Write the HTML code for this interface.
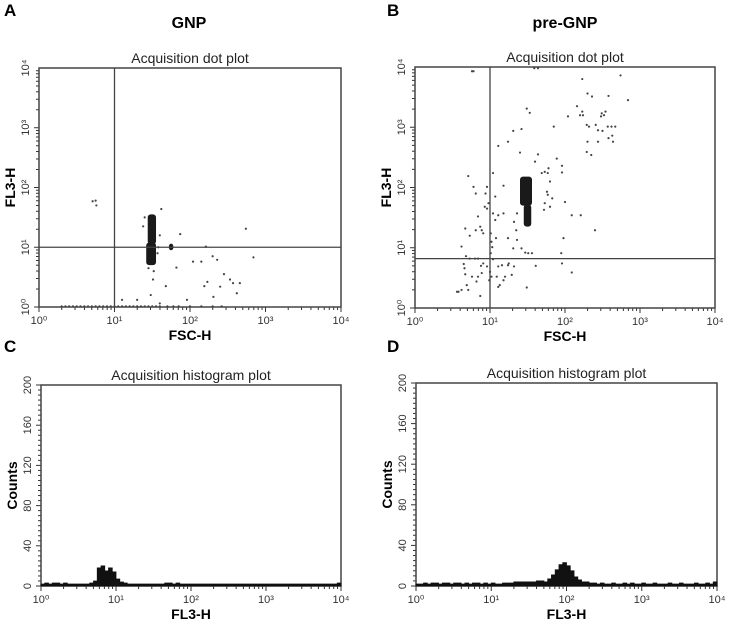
<!DOCTYPE html>
<html><head><meta charset="utf-8">
<style>
html,body{margin:0;padding:0;background:#fff;}
svg{display:block;font-family:"Liberation Sans",Arial,sans-serif;}
</style></head>
<body>
<svg id="fig" width="730" height="629" viewBox="0 0 730 629" xmlns="http://www.w3.org/2000/svg">
  <text x="4" y="16" font-size="17" font-weight="bold">A</text>
  <text x="189" y="28" font-size="16" font-weight="bold" text-anchor="middle">GNP</text>
  <text x="387" y="16" font-size="17" font-weight="bold">B</text>
  <text x="565" y="28" font-size="16" font-weight="bold" text-anchor="middle">pre-GNP</text>
  <text x="4" y="352" font-size="17" font-weight="bold">C</text>
  <text x="387" y="352" font-size="17" font-weight="bold">D</text>
</svg>
<script>
// ---------- DATA (log10 decades of event intensity) ----------
const aFscLog = [0.71,0.75,0.76,1.62,1.87,2.74,2.84,2.04,2.15,2.21,2.30,2.36,2.45,2.53,2.57,2.40,2.31,2.62,2.66,2.23,2.19,1.82,1.68,1.51,1.48,1.60,1.30,1.10,1.96,1.40,1.38,1.58,1.57,1.45,1.60,1.52];
const aFl3Log = [1.77,1.78,1.70,1.64,1.22,1.31,0.83,0.76,0.76,1.01,0.85,0.79,0.55,0.46,0.40,0.34,0.17,0.23,0.40,0.42,0.35,0.66,0.35,0.46,0.20,0.06,0.12,0.12,0.12,1.50,1.35,1.00,0.90,0.65,1.20,0.60];
const aFloorFsc = [0.30,0.35,0.40,0.45,0.50,0.55,0.60,0.65,0.70,0.75,0.80,0.85,0.90,0.95,1.00,1.05,1.10,1.15,1.20,1.25,1.30,1.35,1.40,1.45,1.50,1.55,1.60,1.70,1.78,1.85,2.00,2.15,2.30,2.42];
const aCoreXLo = [1.42,1.44,1.72];
const aCoreXHi = [1.55,1.55,1.78];
const aCoreYLo = [0.70,1.05,0.95];
const aCoreYHi = [1.08,1.55,1.06];
const bFscLog = [0.76,0.78,1.59,1.64,2.23,2.74,2.30,2.36,2.58,2.84,2.16,2.04,2.23,2.20,2.24,2.49,2.54,2.52,2.48,2.41,1.85,1.49,1.53,1.42,1.31,1.24,1.11,1.40,1.64,1.60,1.89,1.96,2.29,2.29,2.35,2.32,2.62,2.67,2.57,2.44,2.50,2.64,2.63,2.58,2.30,2.44,1.77,1.78,1.73,1.69,1.96,1.80,1.76,1.77,1.73,1.80,1.72,1.83,2.09,2.00,2.21,2.40,1.98,1.95,1.96,2.09,1.61,1.49,1.56,1.51,1.47,1.42,1.36,1.31,1.35,1.32,1.36,1.18,1.11,1.04,1.07,1.24,1.08,1.04,1.18,1.07,0.98,0.96,0.93,0.96,0.94,0.81,0.78,0.71,0.84,0.87,0.89,0.81,0.91,0.73,0.67,0.62,0.68,0.73,0.80,0.84,0.91,0.88,0.96,1.00,1.02,0.99,0.89,0.84,0.82,0.76,0.67,0.66,0.65,0.69,0.71,0.62,0.58,0.56,0.87,1.11,1.16,1.18,1.13,1.11,1.09,1.24,1.25,1.32,1.29,1.20,1.03,1.04,1.01,1.02,1.01];
const bFl3Log = [3.93,3.93,3.98,3.98,3.80,3.86,3.56,3.51,3.52,3.45,3.35,3.18,3.26,3.20,3.20,3.23,3.26,3.20,3.18,3.04,3.01,3.31,3.24,2.97,2.94,2.76,2.69,2.58,2.55,2.43,2.48,2.36,3.04,2.59,2.54,3.01,3.01,3.01,3.01,2.95,2.94,2.76,2.86,2.82,2.76,2.76,2.24,2.32,2.26,2.24,2.25,2.10,1.93,1.88,1.74,1.68,1.63,1.82,1.54,1.76,1.54,1.29,1.16,0.91,0.74,0.59,0.70,0.34,0.91,0.91,0.92,0.99,1.13,0.99,1.29,1.43,1.57,1.57,1.54,1.57,1.46,1.16,1.16,2.24,2.03,1.85,1.74,1.65,1.68,2.01,1.90,1.90,2.01,2.19,1.52,1.35,1.29,1.29,1.24,1.20,1.32,1.02,0.86,0.82,0.82,0.82,0.74,0.70,0.69,0.60,0.52,0.46,0.58,0.52,0.44,0.52,0.56,0.66,0.73,0.38,0.30,0.30,0.27,0.27,0.20,0.69,0.71,0.46,0.38,0.35,0.52,0.71,0.74,0.69,0.55,0.52,1.01,0.81,0.91,1.10,1.24];
const bCoreXLo = [1.40,1.45];
const bCoreXHi = [1.56,1.55];
const bCoreYLo = [1.70,1.35];
const bCoreYHi = [2.18,1.72];
const aGateX = 10, aGateY = 10;
const bGateX = 10, bGateY = 6.6;
const cCounts = [1,2,1,2,2,1,2,1,1,1,1,1,1,2,4,17,19,14,17,13,6,3,2,1,1,1,1,1,1,1,1,1,1,2,2,1,2,1,1,1,1,1,1,1,1,1,1,1,1,1,1,1,1,1,1,1,1,1,1,1,1,1,1,1,1,1,1,1,1,1,1,1,1,1,1,1,1,1,1,2];
const dCounts = [1,1,2,1,2,2,1,2,2,1,2,2,1,2,1,2,2,1,2,1,2,1,1,2,2,2,3,3,3,3,3,3,4,4,3,6,10,15,20,22,19,14,8,5,3,3,2,2,1,2,1,1,2,1,1,2,1,2,1,1,2,1,1,2,1,1,1,2,1,1,2,1,1,1,2,1,1,2,1,3];
const logTickLabels = ["10\u2070","10\u00b9","10\u00b2","10\u00b3","10\u2074"];
const countTicks = [0,40,80,120,160,200];

// ---------- RENDER ----------
const NS = "http://www.w3.org/2000/svg";
const svg = document.getElementById("fig");
function mk(tag, attrs, parent){
  const e = document.createElementNS(NS, tag);
  for (const k in attrs) e.setAttribute(k, attrs[k]);
  (parent||svg).appendChild(e);
  return e;
}
function panel(name, L, R, T, B, title, yTitle, xTitle, isHist){
  const g = mk("g", {});
  
  
  const sx = v => L + (v/4)*(R-L);
  const sy = isHist ? (c => B - (c/200)*(B-T)) : (v => B - (v/4)*(B-T));
  const t = mk("text", {x:(L+R)/2, y:T-5, "font-size":14, "text-anchor":"middle", fill:"#222"}, g);
  t.textContent = title;
  
  
  for (let d=0; d<4; d++){
    for (let m=1; m<10; m++){
      const x = sx(d + Math.log10(m));
      mk("line", {x1:x, x2:x, y1:B, y2:B+(m===1?5:3), stroke:"#333", "stroke-width":1}, g);
    }
  }
  mk("line", {x1:R, x2:R, y1:B, y2:B+5, stroke:"#333"}, g);
  logTickLabels.forEach((lab,i)=>{
    const tx = mk("text", {x:sx(i), y:B+17, "font-size":11, "text-anchor":"middle", fill:"#333"}, g);
    tx.textContent = lab;
    
    
  });
  if (isHist){
    for (let c=0; c<=200; c+=5){
      const y = sy(c);
      mk("line", {x1:L-(c%40===0?5:3), x2:L, y1:y, y2:y, stroke:"#333"}, g);
    }
    countTicks.forEach(c=>{
      const y = sy(c), x = L-10;
      const ty = mk("text", {x:x, y:y, "font-size":11, "text-anchor":"middle", fill:"#333", transform:`rotate(-90 ${x} ${y})`}, g);
      ty.textContent = String(c);
      
      
    });
  } else {
    for (let d=0; d<4; d++){
      for (let m=1; m<10; m++){
        const y = sy(d + Math.log10(m));
        mk("line", {x1:L-(m===1?5:3), x2:L, y1:y, y2:y, stroke:"#333"}, g);
      }
    }
    logTickLabels.forEach((lab,i)=>{
      const y = sy(i), x = L-10;
      const ty = mk("text", {x:x, y:y, "font-size":11, "text-anchor":"middle", fill:"#333", transform:`rotate(-90 ${x} ${y})`}, g);
      ty.textContent = lab;
      
      
    });
  }
  const xt = mk("text", {x:(L+R)/2, y:B+33, "font-size":14, "font-weight":"bold", "text-anchor":"middle"}, g);
  xt.textContent = xTitle;
  
  
  const yx = L-24, yy = (T+B)/2;
  const yt = mk("text", {x:yx, y:yy, "font-size":14, "font-weight":"bold", "text-anchor":"middle", transform:`rotate(-90 ${yx} ${yy})`}, g);
  yt.textContent = yTitle;
  
  
  const fr = mk("rect", {x:L, y:T, width:R-L, height:B-T, fill:"none", stroke:"#444", "stroke-width":1.5}, g);
  
  
  return {g, sx, sy, L, R, T, B};
}
function dots(p, xs, ys){
  xs.forEach((v,i)=>{
    const c = mk("circle", {cx:p.sx(v), cy:p.sy(ys[i]), r:1.1, fill:"#444"}, p.g);
    
    
  });
}
function cores(p, xl, xh, yl, yh){
  xl.forEach((v,i)=>{
    const x1=p.sx(v), x2=p.sx(xh[i]), y1=p.sy(yh[i]), y2=p.sy(yl[i]);
    const e = mk("rect", {x:x1, y:y1, width:x2-x1, height:y2-y1, rx:3, ry:3, fill:"#1a1a1a"}, p.g);
    
    
  });
}
function gates(p, gx, gy){
  const x = p.sx(Math.log10(gx)), y = p.sy(Math.log10(gy));
  const v = mk("line", {x1:x, x2:x, y1:p.T, y2:p.B, stroke:"#444", "stroke-width":1.3}, p.g);
  
  
  const h = mk("line", {x1:p.L, x2:p.R, y1:y, y2:y, stroke:"#444", "stroke-width":1.3}, p.g);
  
  
}
function hist(p, counts){
  let d = `M${p.sx(0)},${p.B}`;
  counts.forEach((c,i)=>{
    const x1 = p.sx(i*0.05), x2 = p.sx((i+1)*0.05), y = p.sy(c) - 1;
    d += ` L${x1},${y} L${x2},${y}`;
  });
  d += ` L${p.sx(4)},${p.B} Z`;
  const path = mk("path", {d:d, fill:"#111", stroke:"#111", "stroke-width":0.8}, p.g);
  
  
}

const pA = panel("dot-plot-gnp", 39, 341, 68, 307, "Acquisition dot plot", "FL3-H", "FSC-H", false);
cores(pA, aCoreXLo, aCoreXHi, aCoreYLo, aCoreYHi);
dots(pA, aFscLog, aFl3Log);
dots(pA, aFloorFsc, aFloorFsc.map(()=>0.01));
gates(pA, aGateX, aGateY);

const pB = panel("dot-plot-pre-gnp", 415, 715, 67, 308, "Acquisition dot plot", "FL3-H", "FSC-H", false);
cores(pB, bCoreXLo, bCoreXHi, bCoreYLo, bCoreYHi);
dots(pB, bFscLog, bFl3Log);
gates(pB, bGateX, bGateY);

const pC = panel("histogram-gnp", 41, 341, 385, 586, "Acquisition histogram plot", "Counts", "FL3-H", true);
hist(pC, cCounts);
const pD = panel("histogram-pre-gnp", 416, 717, 383, 586, "Acquisition histogram plot", "Counts", "FL3-H", true);
hist(pD, dCounts);
</script>
</body></html>
